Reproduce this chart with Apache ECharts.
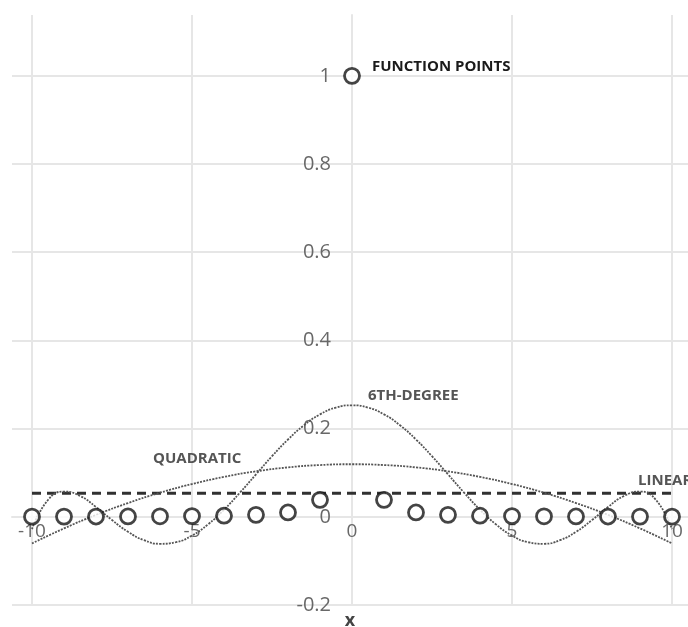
<!DOCTYPE html>
<html>
<head>
<meta charset="utf-8">
<script src="https://cdn.jsdelivr.net/npm/echarts@6/dist/echarts.min.js"></script>
<style>
  html, body { margin: 0; padding: 0; background: #fff; }
  #chart { width: 688px; height: 627px; }
</style>
</head>
<body>
<div id="chart"></div>
<script>
// Sample points of f(x) = 1 / (1 + 25x^2) on the integers
const pointX = [-10, -9, -8, -7, -6, -5, -4, -3, -2, -1, 0, 1, 2, 3, 4, 5, 6, 7, 8, 9, 10];
const pointY = [0.0004, 0.0005, 0.0006, 0.0008, 0.0011, 0.0016, 0.0025, 0.0044, 0.0099, 0.0385, 1,
                0.0385, 0.0099, 0.0044, 0.0025, 0.0016, 0.0011, 0.0008, 0.0006, 0.0005, 0.0004];

// Least-squares fits
const linearX = [-10, 10];
const linearY = [0.0534, 0.0534];

const quadX = [-10, -9, -8, -7, -6, -5, -4, -3, -2, -1, 0, 1, 2, 3, 4, 5, 6, 7, 8, 9, 10];
const quadY = [-0.0604, -0.0263, 0.0043, 0.0312, 0.0546, 0.0743, 0.0905, 0.1031, 0.1121, 0.1174, 0.1192,
               0.1174, 0.1121, 0.1031, 0.0905, 0.0743, 0.0546, 0.0312, 0.0043, -0.0263, -0.0604];

const sixthX = [-10, -9.5, -9, -8.5, -8, -7.5, -7, -6.5, -6, -5.5, -5, -4.5, -4, -3.5, -3, -2.5, -2, -1.5, -1, -0.5,
                0, 0.5, 1, 1.5, 2, 2.5, 3, 3.5, 4, 4.5, 5, 5.5, 6, 6.5, 7, 7.5, 8, 8.5, 9, 9.5, 10];
const sixthY = [-0.0279, 0.0381, 0.0573, 0.0473, 0.0223, -0.0074, -0.0341, -0.0530, -0.0612, -0.0576, -0.0425,
                -0.0172, 0.0161, 0.0550, 0.0963, 0.1374, 0.1753, 0.2076, 0.2323, 0.2477,
                0.2529,
                0.2477, 0.2323, 0.2076, 0.1753, 0.1374, 0.0963, 0.0550, 0.0161, -0.0172,
                -0.0425, -0.0576, -0.0612, -0.0530, -0.0341, -0.0074, 0.0223, 0.0473, 0.0573, 0.0381, -0.0279];

// Axis ticks
const xTicks = [-10, -5, 0, 5, 10];
const yTicks = [-0.2, 0, 0.2, 0.4, 0.6, 0.8, 1];

// Curve annotations: [text, anchor x, anchor y]
const annotations = [
  ['FUNCTION POINTS', 0, 1],
  ['6TH-DEGREE', 0, 0.2529],
  ['QUADRATIC', -6, 0.0546],
  ['LINEAR', 10, 0.0534]
];

const pairs = (xs, ys) => xs.map((x, i) => [x, ys[i]]);

const FONT = '"Open Sans", "DejaVu Sans", sans-serif';
const GRID = '#e6e6e6';
const G = { left: 12, right: 0, top: 15, bottom: 22 };

const chart = echarts.init(document.getElementById('chart'));
chart.setOption({
  animation: false,
  backgroundColor: '#ffffff',
  grid: { left: G.left, right: G.right, top: G.top, bottom: G.bottom, containLabel: false, outerBoundsMode: 'none' },
  xAxis: {
    type: 'value',
    position: 'bottom',
    min: -10.625,
    max: 10.5,
    name: 'x',
    nameLocation: 'middle',
    nameGap: 95,
    nameTextStyle: { fontFamily: FONT, fontSize: 18, fontWeight: 'bold', color: '#444' },
    axisLine: { show: true, onZero: false, lineStyle: { color: GRID, width: 2 } },
    axisTick: { show: false, customValues: xTicks },
    axisLabel: { customValues: xTicks, fontFamily: FONT, fontSize: 19, color: '#686868', margin: 5 },
    splitLine: { show: true, lineStyle: { color: GRID, width: 2 } }
  },
  yAxis: {
    type: 'value',
    position: 'left',
    min: -0.2,
    max: 1.138,
    axisLine: { show: true, onZero: false, lineStyle: { color: GRID, width: 2 } },
    axisTick: { show: false, customValues: yTicks },
    axisLabel: { customValues: yTicks, fontFamily: FONT, fontSize: 20, color: '#686868', margin: 21 },
    splitLine: { show: true, lineStyle: { color: GRID, width: 2 } }
  },
  series: [
    {
      name: 'Linear',
      type: 'line',
      data: pairs(linearX, linearY),
      symbol: 'none',
      lineStyle: { color: '#303030', width: 2.8, type: [9, 6] },
      z: 3
    },
    {
      name: 'Quadratic',
      type: 'line',
      data: pairs(quadX, quadY),
      smooth: true,
      symbol: 'none',
      lineStyle: { color: '#555', width: 1.8, type: [2, 1.2] },
      z: 3
    },
    {
      name: '6th-degree',
      type: 'line',
      data: pairs(sixthX, sixthY),
      smooth: true,
      symbol: 'none',
      lineStyle: { color: '#555', width: 1.8, type: [2, 1.2] },
      z: 3
    },
    {
      name: 'Function points',
      type: 'scatter',
      data: pairs(pointX, pointY),
      symbol: 'circle',
      symbolSize: 15,
      itemStyle: { color: '#ffffff', borderColor: '#151515', borderWidth: 2.8 },
      z: 5
    }
  ]
});

// Move both axes so they cross at the origin
const origin = chart.convertToPixel({ gridIndex: 0 }, [0, 0]);
const gridBottomPx = 627 - G.bottom;
chart.setOption({
  xAxis: { offset: -(gridBottomPx - origin[1]) },
  yAxis: { offset: -(origin[0] - G.left) }
});

// Place the curve names next to their curves, in data coordinates
const offsets = [[20, -9], [16, -10], [-7, -34], [-34, -13]];
const colors = ['#1a1a1a', '#555', '#555', '#555'];
chart.setOption({
  graphic: annotations.map((a, i) => {
    const p = chart.convertToPixel({ gridIndex: 0 }, [a[1], a[2]]);
    return {
      type: 'text',
      x: p[0] + offsets[i][0],
      y: p[1] + offsets[i][1],
      z: 10,
      style: {
        text: a[0],
        fill: colors[i],
        font: 'bold 15px ' + FONT,
        textVerticalAlign: 'middle',
        textAlign: 'left'
      }
    };
  })
});
</script>
</body>
</html>
